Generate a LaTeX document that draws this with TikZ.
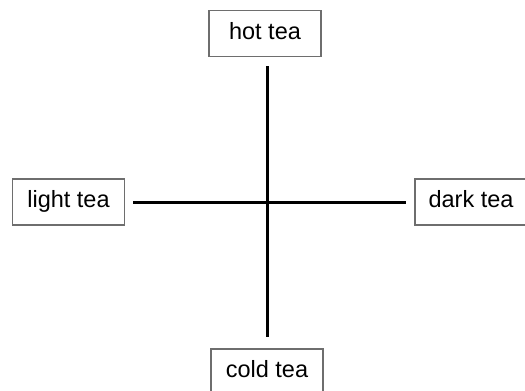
\documentclass[tikz,border=0pt]{standalone}
\usepackage{fontspec}
\setmainfont{Liberation Sans}
\usepackage{tikz}

\definecolor{boxedge}{RGB}{110,110,110}

\tikzset{
  teabox/.style={draw=boxedge, line width=1.2pt, minimum width=112pt, minimum height=46pt,
    inner sep=0pt, text height=14pt, text depth=3pt, font=\fontsize{23.5}{27}\selectfont},
  axisline/.style={line width=3pt, black}
}

\begin{document}
\begin{tikzpicture}[x=1pt, y=-1pt]

\useasboundingbox (0,0) rectangle (525,391);

\coordinate (centre) at (267.5, 202.5);

\node[teabox] (hot) at (265, 33.5) {hot tea};
\node[teabox] (light) at (68.5, 202) {light tea};
\node[teabox] (dark) at (471, 202) {dark tea};
\node[teabox] (cold) at (267, 372) {cold tea};

\draw[axisline, shorten <=9pt, shorten >=11pt] (hot.south -| centre) -- (cold.north -| centre);
\draw[axisline, shorten <=8pt, shorten >=8pt] (light.east |- centre) -- (dark.west |- centre);

\end{tikzpicture}
\end{document}
